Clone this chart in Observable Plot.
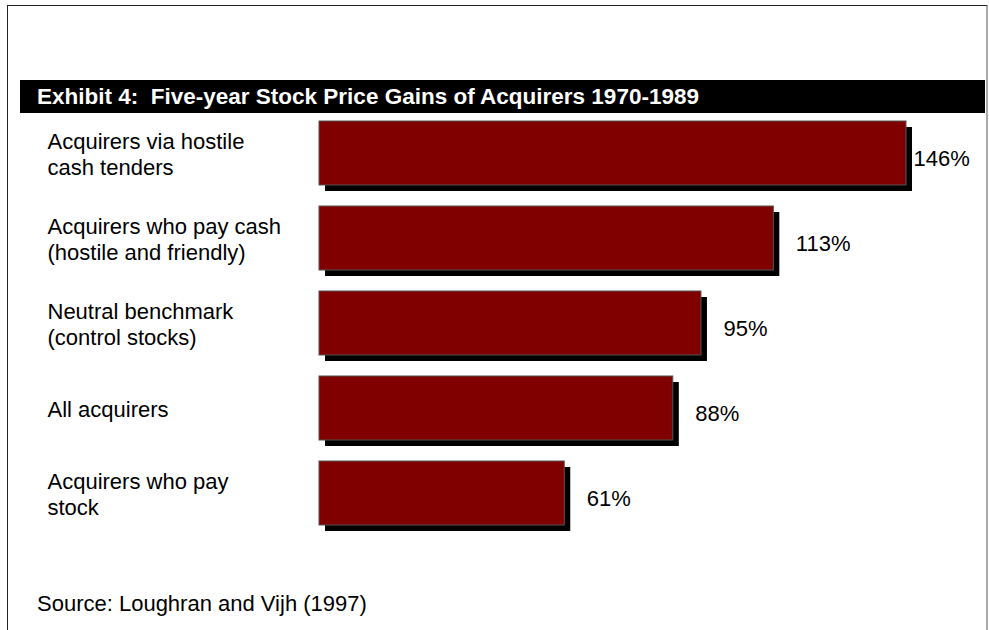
<!DOCTYPE html>
<html>
<head>
<meta charset="utf-8">
<script src="https://cdn.jsdelivr.net/npm/d3@7"></script>
<script src="https://cdn.jsdelivr.net/npm/@observablehq/plot@0.6"></script>
<style>
  html, body { margin: 0; padding: 0; background: #fff; }
  #wrap { position: relative; width: 989px; height: 630px; overflow: hidden; font-family: "Liberation Sans", Arial, sans-serif; }
  #border { position: absolute; left: 7px; top: 5px; width: 978px; height: 700px; border-left: 1px solid #222; border-top: 1px solid #222; border-right: 2px solid #aaa; }
  #titlebar { position: absolute; left: 20px; top: 80px; width: 965px; height: 33px; background: #000; }
  #title { position: absolute; left: 37px; top: 80px; height: 33px; line-height: 33px; color: #fff; font-weight: bold; font-size: 22.5px; white-space: nowrap; }
  #source { position: absolute; left: 37px; top: 591px; font-size: 22px; color: #000; white-space: nowrap; }
  #chart { position: absolute; left: 0; top: 0; }
</style>
</head>
<body>
<div id="wrap">
  <div id="border"></div>
  <div id="titlebar"></div>
  <div id="title"></div>
  <div id="chart"></div>
  <div id="source"></div>
</div>
<script>
const titleText = "Exhibit 4:\u00a0\u00a0Five-year Stock Price Gains of Acquirers 1970-1989";
const sourceText = "Source: Loughran and Vijh (1997)";
const categories = [
  "Acquirers via hostile\ncash tenders",
  "Acquirers who pay cash\n(hostile and friendly)",
  "Neutral benchmark\n(control stocks)",
  "All acquirers",
  "Acquirers who pay\nstock"
];
const gains = [146, 113, 95, 88, 61];
const valueLabels = ["146%", "113%", "95%", "88%", "61%"];

const data = categories.map((c, i) => ({cat: c, gain: gains[i], label: valueLabels[i]}));
const maxGain = d3.max(gains);

document.getElementById("title").textContent = titleText;
document.getElementById("source").textContent = sourceText;

const chart = Plot.plot({
  width: 989,
  height: 630,
  marginLeft: 319,
  marginRight: 83,
  marginTop: 119,
  marginBottom: 102,
  style: {fontFamily: "'Liberation Sans', Arial, sans-serif", background: "transparent"},
  x: {domain: [0, maxGain], axis: null},
  y: {domain: categories, axis: null, paddingInner: 0.244, paddingOuter: 0},
  marks: [
    Plot.barX(data, {x: "gain", y: "cat", fill: "#000", dx: 6, dy: 6}),
    Plot.barX(data, {x: "gain", y: "cat", fill: "#800000", stroke: "#555", strokeWidth: 1}),
    Plot.text(data.filter(d => d.gain !== maxGain), {x: "gain", y: "cat", text: "label", textAnchor: "start", dx: 22, dy: 5, fontSize: 22, fill: "#000"}),
    Plot.text(data.filter(d => d.gain === maxGain), {x: "gain", y: "cat", text: "label", textAnchor: "start", dx: 7, dy: 5, fontSize: 22, fill: "#000"}),
    Plot.text(data, {y: "cat", text: "cat", frameAnchor: "left", textAnchor: "start", dx: 47 - 319, dy: 0, fontSize: 22, lineHeight: 1.18, fill: "#000"})
  ]
});
document.getElementById("chart").appendChild(chart);
</script>
</body>
</html>
